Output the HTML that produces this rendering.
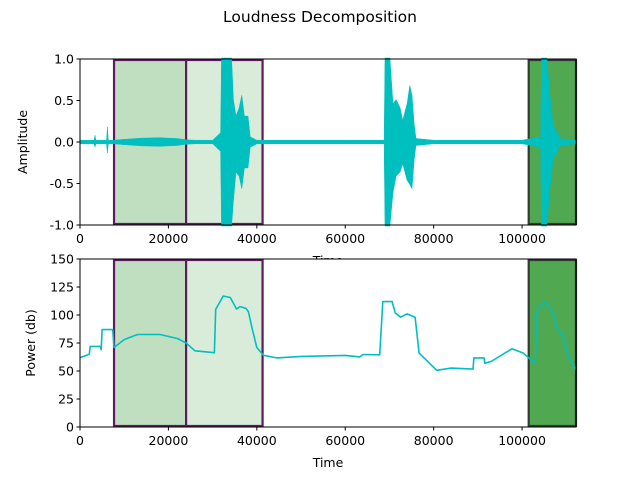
<!DOCTYPE html>
<html><head><meta charset="utf-8"><style>
body{margin:0;background:#fff}
svg text{font-family:"DejaVu Sans","Liberation Sans",sans-serif;fill:#000}
</style></head><body>
<svg id="fig" width="640" height="480" xmlns="http://www.w3.org/2000/svg">
<rect width="640" height="480" fill="#fff"/>
<text x="320" y="22" font-size="15.5" text-anchor="middle">Loudness Decomposition</text>
<g id="top"></g>
<g id="bot"></g>
</svg>
<script>
const xTicks=[0,20000,40000,60000,80000,100000];
const ampTicks=[-1.0,-0.5,0.0,0.5,1.0];
const powTicks=[0,25,50,75,100,125,150];
const regionStarts=[7700,24000,101500];
const regionEnds=[24000,41300,112200];
const regionFills=["#c0dfc0","#d9ecd9","#50a850"];
const regionEdges=["#5e1a5e","#5e1a5e","#333a33"];
const envTime=[0,3200,3400,3600,6000,6200,6400,7700,10000,14000,18000,22000,24000,26000,30000,31800,32000,34300,34700,35300,36000,36600,37200,38000,38500,40000,50000,60000,68800,69000,70100,70800,71500,72400,73000,74000,74600,75100,75600,76000,80000,90000,100000,104200,104400,105600,106200,107000,108200,108600,112200];
const envUp=[0.01,0.01,0.07,0.01,0.01,0.17,0.01,0.01,0.02,0.035,0.04,0.03,0.015,0.01,0.01,0.1,1.0,1.0,0.5,0.3,0.4,0.55,0.3,0.3,0.05,0.01,0.01,0.01,0.01,1.0,1.0,0.45,0.5,0.4,0.25,0.45,0.67,0.55,0.2,0.03,0.01,0.01,0.01,0.05,1.0,1.0,0.6,0.2,0.08,0.03,0.01];
const envDown=[0.01,0.01,0.05,0.01,0.01,0.12,0.01,0.01,0.02,0.035,0.04,0.03,0.015,0.01,0.01,0.1,1.0,1.0,0.7,0.35,0.4,0.55,0.3,0.3,0.05,0.01,0.01,0.01,0.01,1.0,1.0,0.6,0.4,0.35,0.25,0.45,0.5,0.55,0.2,0.03,0.01,0.01,0.01,0.05,1.0,1.0,0.6,0.2,0.08,0.03,0.01];
const powTime=[0,2100,2300,4600,4800,5000,7400,7700,10000,13000,18100,22000,24000,26000,30400,30700,32400,34000,35400,36200,37500,38100,39000,40000,41500,44500,50000,60000,63300,64000,67800,68500,70600,71300,72500,74000,75800,76700,80700,84000,88900,89100,91400,91600,93000,97700,100300,103000,103400,105200,107000,108100,109000,110500,112200];
const powVals=[62,65,72,72,69,87,87,71,78,82.6,82.6,79,75,68,66.3,105,117,115.6,105.4,107.5,106,103,87,71,64,61.7,63,63.9,62.6,64.7,64.5,112,112,102,98,101,98,66,50.6,52.6,51.7,61.7,61.7,57,58.5,69.8,66,56.6,105,112,102,85.6,84,63,51];

const NS="http://www.w3.org/2000/svg";
function mk(p,tag,attrs){const e=document.createElementNS(NS,tag);for(const k in attrs)e.setAttribute(k,attrs[k]);p.appendChild(e);return e;}
const X0=80,X1=576,XMAX=112200;
function sx(t){return X0+(t/XMAX)*(X1-X0);}

function panel(g,top,bot,ymin,ymax,tag){
  const sy=v=>bot-(v-ymin)/(ymax-ymin)*(bot-top);
  for(let i=0;i<regionStarts.length;i++){
    const r=mk(g,'rect',{x:sx(regionStarts[i]),y:top+1,width:sx(regionEnds[i])-sx(regionStarts[i]),height:bot-top-2,fill:regionFills[i],stroke:regionEdges[i],'stroke-width':2.2});
    
    
  }
  return sy;
}
function axes(g,top,bot,yticks,ylabel,fmt,tag,sy,ylx){
  const f=mk(g,'rect',{x:X0,y:top,width:X1-X0,height:bot-top,fill:'none',stroke:'#000','stroke-width':1});
  
  
  xTicks.forEach(t=>{const x=sx(t);mk(g,'line',{x1:x,x2:x,y1:bot,y2:bot+3.5,stroke:'#000'});
    const tx=mk(g,'text',{x:x,y:bot+18,'font-size':12.5,'text-anchor':'middle'});tx.textContent=t;
    
    });
  yticks.forEach(v=>{const y=sy(v);mk(g,'line',{x1:X0-3.5,x2:X0,y1:y,y2:y,stroke:'#000'});
    const tx=mk(g,'text',{x:X0-6,y:y+4.5,'font-size':12.5,'text-anchor':'end'});tx.textContent=fmt(v);
    
    });
  const xl=mk(g,'text',{x:328,y:bot+40,'font-size':12.5,'text-anchor':'middle'});xl.textContent='Time';
  
  
  const cy=(top+bot)/2;
  const yl=mk(g,'text',{x:0,y:0,'font-size':12.5,'text-anchor':'middle',transform:`translate(${ylx},${cy}) rotate(-90)`});yl.textContent=ylabel;
  
  
}
// top panel
const gt=document.getElementById('top');
const syT=panel(gt,59,225,-1,1,'top');
let d='';
envTime.forEach((t,i)=>{d+=(i?'L':'M')+sx(t).toFixed(1)+','+(syT(envUp[i])-1).toFixed(1);});
for(let i=envTime.length-1;i>=0;i--){d+='L'+sx(envTime[i]).toFixed(1)+','+(syT(-envDown[i])+1).toFixed(1);}
const wf=mk(gt,'path',{d:d+'Z',fill:'#00bfbf',stroke:'#00bfbf','stroke-width':0.5});


axes(gt,59,225,ampTicks,'Amplitude',v=>v.toFixed(1),'top',syT,27);
// bottom panel
const gb=document.getElementById('bot');
const bg=mk(gb,'rect',{x:X0,y:259,width:X1-X0,height:168,fill:'#fff'});


const syB=panel(gb,259,427,0,150,'bottom');
const pl=mk(gb,'polyline',{points:powTime.map((t,i)=>sx(t).toFixed(1)+','+syB(powVals[i]).toFixed(1)).join(' '),fill:'none',stroke:'#00bfbf','stroke-width':1.6,'stroke-linejoin':'round'});


axes(gb,259,427,powTicks,'Power (db)',v=>v,'bottom',syB,35);
</script>
</body></html>
